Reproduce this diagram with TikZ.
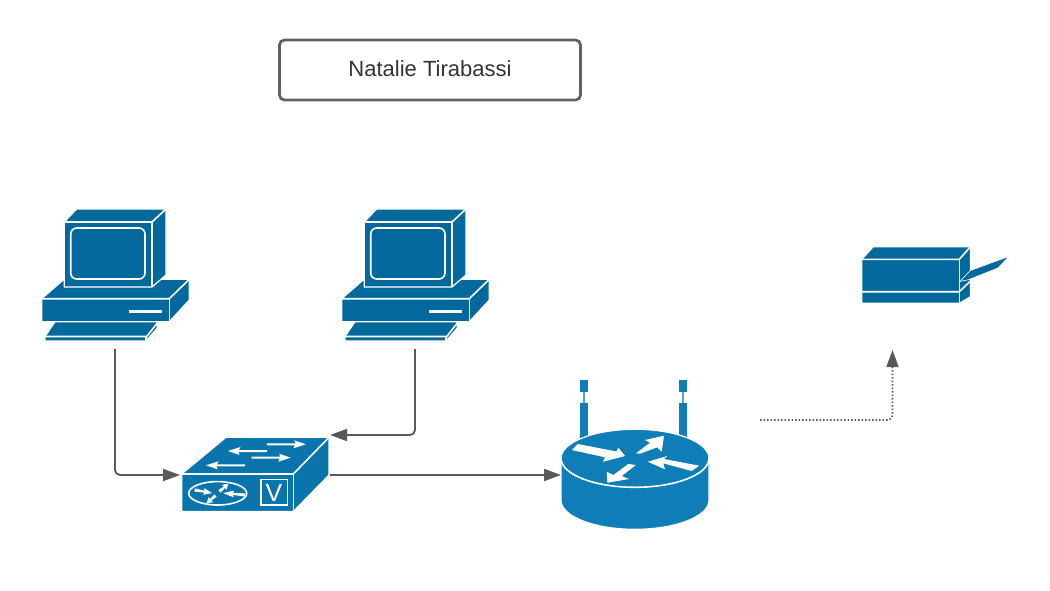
\documentclass[tikz,border=0pt]{standalone}
\usepackage{fontspec}
\setmainfont{Liberation Sans}
\usetikzlibrary{arrows.meta}
\definecolor{pcblue}{HTML}{03699C}
\definecolor{swblue}{HTML}{0A74AC}
\definecolor{rtblue}{HTML}{0E7DB8}
\definecolor{conn}{HTML}{595959}
\tikzset{
  x=1pt,y=-1pt,
  face/.style={draw=white,line width=1.2pt,line join=round},
  wline/.style={draw=white,line width=1.6pt},
  wfill/.style={fill=white,draw=none},
  conn/.style={draw=conn,line width=1.8pt,rounded corners=5pt,-{Triangle[length=17pt,width=12pt]}},
  dotconn/.style={conn,dash pattern=on 1.5pt off 2pt,line width=1.6pt},
  titlebox/.style={draw=conn!95,line width=2.8pt,rounded corners=5pt,minimum width=301pt,minimum height=60pt,inner sep=0pt,text=black!80},
  pcbox/.style={minimum width=148pt,minimum height=140pt,inner sep=0pt,outer sep=0pt},
  pc/.pic={
    \fill[pcblue,face] (41.7,298.7) -- (64,279.3) -- (189.3,279.3) -- (189.3,300) -- (169.3,321.7) -- (41.7,321.7) -- cycle;
    \draw[wline] (41.7,298.7) -- (169.3,298.7) -- (189.3,279.3);
    \draw[wline] (169.3,298.7) -- (169.3,321.7);
    \fill[pcblue,face] (64.3,222) -- (76.7,209) -- (166,209) -- (166,275) -- (152,287) -- (64.3,287) -- cycle;
    \draw[wline] (64.3,222) -- (152,222) -- (166,209);
    \draw[wline] (152,222) -- (152,287);
    \draw[wline,rounded corners=6pt] (70.7,228) rectangle (145,279);
    \fill[wfill] (129.3,310) rectangle (162.3,312.9);
    \fill[pcblue,face] (45,336.5) -- (55,321.7) -- (157.3,321.7) -- (157.3,328) -- (146,341) -- (45,341) -- cycle;
    \draw[wline] (45,336.5) -- (146.7,336.5) -- (157.3,323);
    \draw[wline] (146,336.5) -- (146,341);
  },
  swarrow/.pic={
    \fill[white] (-19.5,-1) -- (9,-1) -- (8,-4) -- (19.5,0) -- (7,4) -- (8.5,1) -- (-19.5,1) -- cycle;
  },
  smallarrow/.pic={
    \fill[white] (-10,-1.6) -- (1,-1) -- (0,-3.4) -- (10,0) -- (0,3.4) -- (1,1) -- (-10,1.6) -- cycle;
  }
}
\begin{document}
\begin{tikzpicture}
\useasboundingbox (0,0) rectangle (1050,590);
% title
\node[titlebox,font=\fontsize{22}{26}\selectfont] (title) at (430,70) {\raisebox{2pt}{Natalie Tirabassi}};
% computers
\pic at (0,0) {pc};
\pic at (300,0) {pc};
\node[pcbox] (pc1) at (115,279) {};
\node[pcbox] (pc2) at (415,279) {};
% switch
\fill[swblue,face] (181.7,474) -- (226,437.3) -- (329,437.3) -- (329,475) -- (293.3,511.5) -- (181.7,511.5) -- cycle;
\draw[wline] (181.7,474) -- (293.3,474) -- (329,437.3);
\draw[wline] (293.3,474) -- (293.3,511.5);
\pic at (286.3,444.3) {swarrow};
\pic[rotate=180] at (247.5,451) {swarrow};
\pic at (271.2,457.7) {swarrow};
\pic[rotate=180] at (225.5,465.3) {swarrow};
\draw[wline] (260.7,479.3) rectangle (287.3,505);
\node[text=white,inner sep=0pt,font=\fontsize{25}{25}\selectfont] (vlabel) at (274,492.5) {V};
\draw[wline] (217.7,493.3) ellipse [x radius=29,y radius=11.7];
\pic[rotate=-10,xscale=.9] at (203.5,491.5) {smallarrow};
\pic[rotate=40,xscale=.6] at (224,487.5) {smallarrow};
\pic[rotate=175,xscale=1.1] at (234,494) {smallarrow};
\pic[rotate=221,xscale=.6] at (211,499.5) {smallarrow};
\node[minimum width=150pt,minimum height=75pt,inner sep=0pt,outer sep=0pt] (sw) at (255,475) {};
% router antennas
\foreach \ax in {580.3,679} {
  \fill[rtblue] (\ax,380) rectangle ++(8,11.7);
  \fill[rtblue] (\ax,403.3) rectangle ++(8,35);
  \fill[rtblue!70] (\ax+3,391.7) rectangle ++(2,11.6);
}
% router body
\fill[rtblue,face] (561,458.3) -- (561,500.3) arc [start angle=180,end angle=0,x radius=74,y radius=29] -- (709,458.3) arc [start angle=0,end angle=-180,x radius=74,y radius=29] -- cycle;
\draw[wline] (561,458.3) arc [start angle=180,end angle=0,x radius=74,y radius=29];
\fill[white] (571.7,450) -- (578,444) -- (616.5,451.5) -- (618.3,447.7) -- (625,456) -- (603,461.7) -- (605,457.3) -- cycle;
\fill[white] (636,453.3) -- (650,442.7) -- (645,440) -- (664,435.7) -- (661.7,451.7) -- (657.3,447.3) -- (640,453.7) -- cycle;
\fill[white] (699.3,465.7) -- (691.7,471) -- (663.3,463.3) -- (665,469.3) -- (647.7,461.7) -- (667.3,456) -- (664,459) -- cycle;
\fill[white] (628.3,464) -- (636,465) -- (621.7,476) -- (629,479) -- (607.3,482.7) -- (606.7,471.7) -- (613.3,475) -- cycle;
\node[minimum width=148pt,minimum height=150pt,inner sep=0pt,outer sep=0pt] (router) at (635,455) {};
% printer
\fill[pcblue,face] (861.7,259.3) -- (873.3,246.7) -- (970.5,246.7) -- (970.5,296.7) -- (959.3,303.3) -- (861.7,303.3) -- cycle;
\draw[wline] (861.7,259.3) -- (959.3,259.3) -- (970.5,246.7);
\draw[wline] (959.3,259.3) -- (959.3,303.3);
\draw[wline] (861.7,291.7) -- (959.3,291.7) -- (970.5,281);
\fill[pcblue,draw=white,line width=.6pt,line join=round] (960,281.5) -- (970,270.7) -- (1009,256.3) -- (998,268) -- (968.5,279.7) -- cycle;
\node[minimum width=148pt,minimum height=58pt,inner sep=0pt,outer sep=0pt] (printer) at (935,275) {};
% connectors
\coordinate (dotstart) at (760,420);
\coordinate (dotend) at (892.5,350);
\draw[conn] (pc1.south) |- (sw.west);
\draw[conn] (pc2.south) |- (sw.east |- 0,435);
\draw[conn] (sw.east) -- (sw.east -| router.west);
\draw[dotconn] (dotstart) -| (dotend);
\end{tikzpicture}
\end{document}
